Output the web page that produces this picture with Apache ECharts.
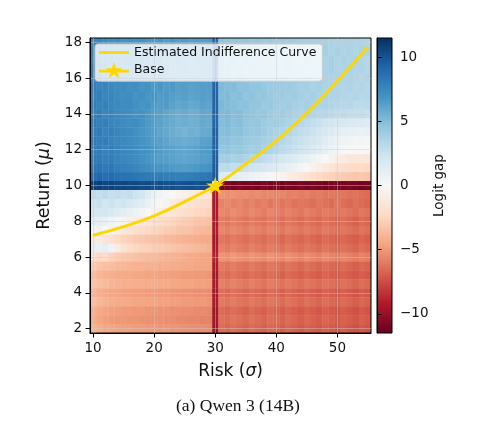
<!DOCTYPE html>
<html lang="en">
<head>
<meta charset="UTF-8">
<title>Logit gap heatmap</title>
<script src="https://cdn.jsdelivr.net/npm/echarts@6/dist/echarts.min.js"></script>
<style>
    html, body { margin: 0; padding: 0; background: #fff; }
    #main { width: 499px; height: 434px; }
</style>
</head>
<body>
<div id="main"></div>
<script>
// columns: risk levels, rows: return levels (top row first)
var sigmaValues = [10, 11, 12, 13, 14, 15, 16, 17, 18, 19, 20, 21, 22, 23, 24, 25, 26, 27, 28, 29,
    30, 31, 32, 33, 34, 35, 36, 37, 38, 39, 40, 41, 42, 43, 44, 45, 46, 47, 48, 49, 50, 51, 52, 53, 54, 55];
var muValues = [18, 17.5, 17, 16.5, 16, 15.5, 15, 14.5, 14, 13.5, 13, 12.5, 12, 11.5, 11, 10.5, 10,
    9.5, 9, 8.5, 8, 7.5, 7, 6.5, 6, 5.5, 5, 4.5, 4, 3.5, 3, 2.5, 2];

// logit gap, one row per return level
var logitGap = [
    [7.4, 7.6, 7.3, 7.1, 7.2, 6.9, 7.0, 6.8, 7.0, 6.7, 6.6, 6.8, 6.5, 6.7, 6.4, 6.6, 6.3, 6.5, 6.4, 6.5, 9.0, 4.7, 4.5, 4.6, 4.4, 4.5, 4.3, 4.4, 4.2, 4.3, 4.1, 4.2, 4.1, 4.0, 4.0, 3.9, 3.9, 3.8, 3.8, 3.7, 3.7, 3.6, 3.6, 3.5, 3.5, 3.4],
    [7.7, 7.4, 7.5, 7.2, 7.0, 7.1, 6.9, 7.0, 6.7, 6.8, 6.9, 6.6, 6.7, 6.5, 6.6, 6.4, 6.5, 6.3, 6.6, 6.5, 9.1, 4.8, 4.6, 4.4, 4.6, 4.4, 4.5, 4.2, 4.3, 4.1, 4.3, 4.0, 4.1, 3.9, 4.1, 3.8, 4.0, 3.7, 3.9, 3.6, 3.8, 3.5, 3.7, 3.4, 3.6, 3.5],
    [7.5, 7.7, 7.2, 7.4, 7.1, 6.9, 7.2, 6.8, 6.9, 7.0, 6.7, 6.8, 6.6, 6.4, 6.7, 6.5, 6.2, 6.4, 6.5, 6.4, 9.2, 4.9, 4.7, 4.8, 4.5, 4.6, 4.4, 4.5, 4.3, 4.4, 4.2, 4.1, 4.2, 4.0, 3.9, 4.0, 3.8, 3.9, 3.7, 3.8, 3.6, 3.7, 3.5, 3.6, 3.4, 3.3],
    [7.8, 7.5, 7.6, 7.3, 7.4, 7.1, 7.0, 7.1, 6.8, 6.9, 6.6, 6.7, 6.8, 6.5, 6.4, 6.6, 6.4, 6.2, 6.4, 6.5, 9.1, 5.0, 4.8, 4.6, 4.7, 4.5, 4.6, 4.3, 4.4, 4.2, 4.3, 4.1, 4.2, 4.0, 4.1, 3.9, 3.8, 3.9, 3.7, 3.8, 3.6, 3.5, 3.6, 3.4, 3.5, 3.3],
    [7.6, 7.8, 7.4, 7.2, 7.5, 7.0, 7.2, 6.9, 7.0, 6.7, 6.8, 6.9, 6.6, 6.7, 6.5, 6.3, 6.5, 6.3, 6.5, 6.4, 9.3, 4.9, 5.0, 4.7, 4.8, 4.6, 4.4, 4.5, 4.3, 4.4, 4.2, 4.3, 4.0, 4.1, 3.9, 4.0, 3.8, 3.9, 3.7, 3.6, 3.7, 3.5, 3.6, 3.4, 3.3, 3.4],
    [7.9, 7.6, 7.7, 7.4, 7.2, 7.3, 7.0, 7.1, 6.8, 6.9, 6.6, 6.7, 6.5, 6.6, 6.3, 6.4, 6.2, 6.3, 6.4, 6.4, 9.2, 5.1, 4.9, 5.0, 4.7, 4.8, 4.5, 4.6, 4.4, 4.2, 4.3, 4.1, 4.2, 4.0, 3.8, 3.9, 3.7, 3.8, 3.6, 3.7, 3.5, 3.4, 3.5, 3.3, 3.4, 3.2],
    [7.7, 7.9, 7.5, 7.6, 7.3, 7.1, 7.2, 6.9, 7.0, 6.7, 6.8, 6.5, 6.6, 6.4, 6.2, 6.3, 6.1, 6.2, 6.4, 6.3, 9.3, 5.0, 5.1, 4.8, 4.9, 4.6, 4.7, 4.4, 4.5, 4.3, 4.1, 4.2, 4.0, 4.1, 3.9, 3.7, 3.8, 3.6, 3.7, 3.5, 3.6, 3.4, 3.3, 3.4, 3.2, 3.3],
    [8.0, 7.7, 7.8, 7.5, 7.4, 7.2, 7.3, 7.0, 6.8, 6.9, 6.6, 6.4, 6.5, 6.2, 6.0, 6.1, 5.9, 6.0, 6.2, 6.1, 9.2, 5.2, 5.0, 4.9, 4.7, 4.8, 4.5, 4.6, 4.3, 4.4, 4.2, 4.0, 4.1, 3.9, 3.7, 3.8, 3.6, 3.5, 3.6, 3.4, 3.3, 3.2, 3.3, 3.1, 3.0, 3.1],
    [7.8, 8.0, 7.6, 7.7, 7.4, 7.3, 7.1, 6.9, 7.0, 6.7, 6.5, 6.3, 6.1, 5.9, 5.7, 5.8, 5.6, 5.7, 6.0, 5.9, 9.3, 5.1, 5.2, 4.9, 5.0, 4.7, 4.6, 4.4, 4.5, 4.2, 4.0, 4.1, 3.9, 3.7, 3.5, 3.6, 3.4, 3.2, 3.3, 3.1, 2.9, 3.0, 2.8, 2.7, 2.8, 2.6],
    [8.1, 7.8, 7.9, 7.6, 7.5, 7.3, 7.1, 7.2, 6.9, 6.6, 6.4, 6.2, 6.0, 5.8, 5.6, 5.7, 5.5, 5.6, 5.9, 5.8, 9.2, 5.0, 5.1, 4.8, 4.9, 4.6, 4.4, 4.5, 4.2, 4.0, 4.1, 3.8, 3.6, 3.4, 3.2, 3.0, 2.8, 2.6, 2.4, 2.2, 2.0, 1.9, 1.8, 1.7, 1.6, 1.5],
    [7.9, 8.1, 7.7, 7.8, 7.6, 7.4, 7.2, 7.0, 6.8, 6.6, 6.4, 6.1, 5.9, 5.7, 5.5, 5.4, 5.6, 5.5, 5.8, 5.9, 9.4, 4.9, 5.0, 4.7, 4.8, 4.5, 4.3, 4.4, 4.1, 3.9, 3.7, 3.5, 3.3, 3.1, 2.9, 2.7, 2.5, 2.2, 1.9, 1.6, 1.3, 1.1, 1.0, 0.9, 0.8, 0.9],
    [8.2, 7.9, 8.0, 7.7, 7.6, 7.4, 7.3, 7.1, 6.9, 6.7, 6.5, 6.3, 6.1, 5.9, 5.8, 5.7, 5.8, 5.9, 6.2, 6.3, 9.3, 4.7, 4.8, 4.5, 4.6, 4.3, 4.1, 4.2, 3.9, 3.7, 3.5, 3.3, 3.1, 2.8, 2.6, 2.4, 2.1, 1.8, 1.4, 1.0, 0.7, 0.5, 0.4, 0.3, 0.4, 0.2],
    [8.0, 8.2, 7.8, 7.9, 7.7, 7.5, 7.4, 7.2, 7.0, 6.9, 6.7, 6.5, 6.3, 6.2, 6.1, 6.0, 6.1, 6.2, 6.5, 6.6, 9.4, 4.5, 4.6, 4.3, 4.4, 4.1, 3.9, 4.0, 3.7, 3.5, 3.3, 3.0, 2.8, 2.5, 2.3, 2.0, 1.7, 1.4, 1.0, 0.6, 0.3, 0.1, 0.0, -0.1, 0.0, -0.2],
    [8.1, 8.2, 7.9, 8.0, 7.7, 7.5, 7.4, 7.2, 7.0, 6.8, 6.6, 6.4, 6.3, 6.2, 6.1, 6.0, 6.1, 6.2, 6.4, 6.5, 9.5, 3.9, 4.0, 3.7, 3.8, 3.5, 3.3, 3.1, 2.9, 2.7, 2.4, 2.1, 1.8, 1.5, 1.2, 0.9, 0.6, 0.3, 0.0, -0.4, -0.8, -1.1, -1.3, -1.4, -1.3, -1.5],
    [8.4, 8.5, 8.2, 8.3, 8.0, 7.8, 7.7, 7.5, 7.3, 7.1, 7.0, 6.8, 6.7, 6.6, 6.5, 6.4, 6.5, 6.6, 6.8, 6.9, 9.6, 3.0, 3.1, 2.8, 2.9, 2.6, 2.4, 2.2, 2.0, 1.8, 1.5, 1.2, 0.9, 0.6, 0.3, 0.0, -0.4, -0.8, -1.2, -1.6, -1.9, -2.1, -2.2, -2.3, -2.2, -2.4],
    [9.0, 9.1, 8.8, 8.9, 8.7, 8.6, 8.5, 8.4, 8.3, 8.2, 8.2, 8.1, 8.0, 8.0, 7.9, 7.9, 8.0, 8.1, 8.3, 8.4, 9.8, 1.6, 1.4, 1.2, 1.1, 0.9, 0.7, 0.5, 0.3, 0.1, -0.2, -0.5, -0.8, -1.1, -1.4, -1.7, -2.0, -2.3, -2.5, -2.7, -2.9, -3.0, -3.1, -3.2, -3.1, -3.3],
    [10.8, 10.9, 10.6, 10.7, 10.5, 10.6, 10.4, 10.5, 10.3, 10.4, 10.2, 10.3, 10.1, 10.2, 10.0, 10.1, 10.2, 10.0, 10.3, 10.4, 0, -11.0, -10.9, -11.1, -10.8, -11.0, -10.9, -11.1, -10.8, -11.0, -10.9, -11.2, -10.9, -11.0, -10.8, -11.1, -10.9, -11.0, -11.2, -10.9, -11.0, -11.1, -10.9, -11.0, -11.2, -11.0],
    [3.0, 2.8, 3.1, 2.7, 2.9, 2.6, 2.8, 2.4, 2.2, 1.4, 0.8, 0.5, 0.2, 0.0, -0.3, -0.6, -0.8, -1.0, -1.3, -1.5, -9.2, -5.1, -5.3, -5.2, -5.4, -5.3, -5.5, -5.4, -5.6, -5.5, -5.7, -5.6, -5.8, -5.7, -5.9, -5.8, -6.0, -5.9, -6.1, -6.0, -6.2, -6.1, -6.3, -6.2, -6.4, -6.5],
    [2.4, 2.6, 2.2, 2.5, 2.1, 2.3, 1.9, 1.6, 1.4, 0.8, 0.3, -0.1, -0.5, -0.9, -1.2, -1.4, -1.7, -1.9, -2.1, -2.3, -9.4, -5.7, -5.5, -5.8, -5.6, -5.9, -5.7, -6.0, -5.8, -6.1, -5.9, -6.2, -6.0, -6.3, -6.1, -6.2, -6.4, -6.1, -6.3, -6.5, -6.2, -6.4, -6.6, -6.3, -6.5, -6.7],
    [2.2, 2.0, 2.1, 1.8, 1.5, 1.2, 0.9, 0.6, 0.3, 0.0, -0.4, -0.8, -1.2, -1.5, -1.8, -2.0, -2.2, -2.4, -2.5, -2.7, -9.2, -5.5, -5.7, -5.4, -5.6, -5.8, -5.5, -5.7, -5.9, -5.6, -5.8, -6.0, -5.7, -5.9, -6.1, -5.8, -6.0, -6.2, -5.9, -6.1, -6.3, -6.0, -6.2, -6.4, -6.1, -6.3],
    [1.3, 1.1, 0.9, 0.5, 0.1, -0.3, -0.6, -0.9, -1.2, -1.5, -1.8, -2.1, -2.3, -2.5, -2.7, -2.9, -3.0, -3.2, -3.3, -3.4, -9.3, -5.9, -6.1, -5.8, -6.0, -6.2, -5.9, -6.1, -6.3, -6.0, -6.2, -6.4, -6.1, -6.3, -6.5, -6.2, -6.4, -6.6, -6.3, -6.5, -6.7, -6.4, -6.6, -6.8, -6.5, -6.7],
    [0.4, 0.6, 0.1, -0.4, -0.9, -1.3, -1.6, -1.9, -2.1, -2.3, -2.5, -2.7, -2.9, -3.0, -3.2, -3.3, -3.4, -3.6, -3.7, -3.8, -9.1, -5.6, -5.8, -5.5, -5.7, -5.9, -5.6, -5.8, -6.0, -5.7, -5.9, -6.1, -5.8, -6.0, -6.2, -5.9, -6.1, -6.3, -6.0, -6.2, -6.4, -6.1, -6.3, -6.5, -6.2, -6.4],
    [-1.2, -1.0, -1.5, -1.9, -2.3, -2.6, -2.8, -3.0, -3.1, -3.3, -3.4, -3.5, -3.7, -3.8, -3.9, -4.0, -4.1, -4.2, -4.3, -4.4, -9.4, -6.1, -6.3, -6.0, -6.2, -6.4, -6.1, -6.3, -6.5, -6.2, -6.4, -6.6, -6.3, -6.5, -6.7, -6.4, -6.6, -6.8, -6.5, -6.7, -6.9, -6.6, -6.8, -7.0, -6.7, -6.9],
    [1.0, 0.8, 1.1, 0.5, -1.0, -1.7, -2.1, -2.4, -2.6, -2.7, -2.9, -3.0, -3.1, -3.3, -3.4, -3.5, -3.6, -3.7, -3.8, -4.0, -9.2, -5.8, -6.0, -5.7, -5.9, -6.1, -5.8, -6.0, -6.2, -5.9, -6.1, -6.3, -6.0, -6.2, -6.4, -6.1, -6.3, -6.5, -6.2, -6.4, -6.6, -6.3, -6.5, -6.7, -6.4, -6.6],
    [-2.0, -2.4, -2.2, -2.6, -2.9, -3.1, -3.2, -3.4, -3.5, -3.6, -3.7, -3.8, -3.9, -4.0, -4.1, -4.2, -4.3, -4.4, -4.5, -4.6, -9.0, -5.1, -5.3, -5.0, -5.2, -5.4, -5.1, -5.3, -5.5, -5.2, -5.4, -5.6, -5.3, -5.5, -5.7, -5.4, -5.6, -5.8, -5.5, -5.7, -5.9, -5.6, -5.8, -6.0, -5.7, -5.9],
    [-3.0, -3.3, -3.5, -3.6, -3.7, -3.8, -3.9, -4.0, -4.0, -4.1, -4.1, -4.2, -4.2, -4.3, -4.3, -4.4, -4.4, -4.5, -4.5, -4.6, -9.3, -6.0, -6.2, -5.9, -6.1, -6.3, -6.0, -6.2, -6.4, -6.1, -6.3, -6.5, -6.2, -6.4, -6.6, -6.3, -6.5, -6.7, -6.4, -6.6, -6.8, -6.5, -6.7, -6.9, -6.6, -6.8],
    [-3.6, -3.9, -4.1, -4.2, -4.3, -4.4, -4.4, -4.5, -4.5, -4.6, -4.6, -4.7, -4.7, -4.8, -4.8, -4.9, -4.9, -5.0, -5.0, -5.1, -9.5, -6.3, -6.5, -6.2, -6.4, -6.6, -6.3, -6.5, -6.7, -6.4, -6.6, -6.8, -6.5, -6.7, -6.9, -6.6, -6.8, -7.0, -6.7, -6.9, -7.1, -6.8, -7.0, -7.2, -6.9, -7.1],
    [-3.2, -3.5, -3.7, -3.9, -4.0, -4.1, -4.1, -4.2, -4.2, -4.3, -4.3, -4.4, -4.4, -4.5, -4.5, -4.6, -4.6, -4.7, -4.7, -4.8, -9.2, -5.8, -6.0, -5.7, -5.9, -6.1, -5.8, -6.0, -6.2, -5.9, -6.1, -6.3, -6.0, -6.2, -6.4, -6.1, -6.3, -6.5, -6.2, -6.4, -6.6, -6.3, -6.5, -6.7, -6.4, -6.6],
    [-3.9, -4.2, -4.4, -4.5, -4.6, -4.7, -4.7, -4.8, -4.8, -4.9, -4.9, -5.0, -5.0, -5.1, -5.1, -5.2, -5.2, -5.3, -5.3, -5.4, -9.5, -6.4, -6.6, -6.3, -6.5, -6.7, -6.4, -6.6, -6.8, -6.5, -6.7, -6.9, -6.6, -6.8, -7.0, -6.7, -6.9, -7.1, -6.8, -7.0, -7.2, -6.9, -7.1, -7.3, -7.0, -7.2],
    [-3.5, -3.8, -4.0, -4.2, -4.3, -4.4, -4.4, -4.5, -4.5, -4.6, -4.6, -4.7, -4.7, -4.8, -4.8, -4.9, -4.9, -5.0, -5.0, -5.1, -9.3, -6.0, -6.2, -5.9, -6.1, -6.3, -6.0, -6.2, -6.4, -6.1, -6.3, -6.5, -6.2, -6.4, -6.6, -6.3, -6.5, -6.7, -6.4, -6.6, -6.8, -6.5, -6.7, -6.9, -6.6, -6.8],
    [-4.1, -4.4, -4.6, -4.7, -4.8, -4.9, -4.9, -5.0, -5.0, -5.1, -5.1, -5.2, -5.2, -5.3, -5.3, -5.4, -5.4, -5.5, -5.5, -5.6, -9.6, -6.5, -6.7, -6.4, -6.6, -6.8, -6.5, -6.7, -6.9, -6.6, -6.8, -7.0, -6.7, -6.9, -7.1, -6.8, -7.0, -7.2, -6.9, -7.1, -7.3, -7.0, -7.2, -7.4, -7.1, -7.3],
    [-4.3, -4.6, -4.8, -4.9, -5.0, -5.0, -5.1, -5.1, -5.2, -5.2, -5.3, -5.3, -5.4, -5.4, -5.5, -5.5, -5.6, -5.6, -5.7, -5.7, -9.5, -6.3, -6.5, -6.2, -6.4, -6.6, -6.3, -6.5, -6.7, -6.4, -6.6, -6.8, -6.5, -6.7, -6.9, -6.6, -6.8, -7.0, -6.7, -6.9, -7.1, -6.8, -7.0, -7.2, -6.9, -7.1],
    [-4.0, -4.3, -4.5, -4.6, -4.7, -4.8, -4.8, -4.9, -4.9, -5.0, -5.0, -5.1, -5.1, -5.2, -5.2, -5.3, -5.3, -5.4, -5.4, -5.5, -9.7, -6.5, -6.7, -6.4, -6.6, -6.8, -6.5, -6.7, -6.9, -6.6, -6.8, -7.0, -6.7, -6.9, -7.1, -6.8, -7.0, -7.2, -6.9, -7.1, -7.3, -7.0, -7.2, -7.4, -7.1, -7.3]
];

// estimated indifference curve, read at a few risk levels
var curveSigma = [10, 15, 20, 25, 30, 35, 40, 45, 50, 55];
var curveMu = [7.22, 7.7, 8.3, 9.1, 10.0, 11.2, 12.5, 14.05, 15.85, 17.75];
var basePoint = [30, 10];

// tick labels
var xTicks = [10, 20, 30, 40, 50];
var yTicks = [2, 4, 6, 8, 10, 12, 14, 16, 18];
var cbarTicks = [-10, -5, 0, 5, 10];
var cbarMin = -11.5, cbarMax = 11.5;

var rdbu = ['#67001f', '#b2182b', '#d6604d', '#f4a582', '#fddbc7', '#f7f7f7',
    '#d1e5f0', '#92c5de', '#4393c3', '#2166ac', '#053061'];
var starPath = 'path://M50,2 L61.8,36.2 L97.6,36.2 L68.6,57.4 L79.4,91.8 L50,70.6 L20.6,91.8 L31.4,57.4 L2.4,36.2 L38.2,36.2 Z';
// legend samples: a line, and a line with the star on it
var lineIcon = 'path://M0,8.1H30V10.9H0Z';
var baseIcon = 'path://M0,8.1H30V10.9H0Z M15,0.36L17.12,6.52L23.57,6.52L18.35,10.33L20.29,16.52L15,12.71L9.71,16.52L11.65,10.33L6.43,6.52L12.88,6.52Z';
var font = 'DejaVu Sans';

var cells = [];
logitGap.forEach(function (row, r) {
    row.forEach(function (v, c) {
        cells.push([sigmaValues[c], muValues[r], v]);
    });
});
var cellW = sigmaValues[1] - sigmaValues[0];
var cellH = muValues[0] - muValues[1];

var curve = curveSigma.map(function (s, i) { return [s, curveMu[i]]; });

function minus(v) {
    return v < 0 ? '\u2212' + Math.abs(v) : String(v);
}

var myChart = echarts.init(document.getElementById('main'), null, { renderer: 'canvas' });

var option = {
    animation: false,
    backgroundColor: '#fff',
    title: {
        text: '(a) Qwen 3 (14B)',
        left: 176,
        top: 397,
        padding: 0,
        textStyle: { fontFamily: 'Liberation Serif', fontWeight: 'normal', fontSize: 17.5, color: '#111' }
    },
    grid: [
        { left: 90, top: 38, width: 281, height: 295, show: true, z: 5,
          backgroundColor: 'transparent', borderColor: '#000', borderWidth: 1 },
        { left: 377, top: 38, width: 15, height: 295, show: true, z: 5,
          backgroundColor: 'transparent', borderColor: '#000', borderWidth: 1 }
    ],
    xAxis: [
        {
            type: 'value', gridIndex: 0, min: 9.5, max: 55.5, z: 6,
            name: 'Risk ({i|σ})', nameLocation: 'middle', nameGap: 30,
            nameTextStyle: { fontFamily: font, fontSize: 17, color: '#111',
                rich: { i: { fontFamily: font, fontStyle: 'italic', fontSize: 17, color: '#111' } } },
            axisLine: { show: true, lineStyle: { color: '#000', width: 1 } },
            axisTick: { show: true, length: 4.5, customValues: xTicks, lineStyle: { color: '#000', width: 1 } },
            axisLabel: { customValues: xTicks, margin: 8, fontFamily: font, fontSize: 13.5, color: '#111' },
            splitLine: { show: false }
        },
        { type: 'value', gridIndex: 1, min: 0, max: 1, show: false }
    ],
    yAxis: [
        {
            type: 'value', gridIndex: 0, min: 1.75, max: 18.25, z: 6,
            name: 'Return ({i|μ})', nameLocation: 'middle', nameGap: 27,
            nameTextStyle: { fontFamily: font, fontSize: 17.5, color: '#111',
                rich: { i: { fontFamily: font, fontStyle: 'italic', fontSize: 17.5, color: '#111' } } },
            axisLine: { show: true, lineStyle: { color: '#000', width: 1 } },
            axisTick: { show: true, length: 4.5, customValues: yTicks, lineStyle: { color: '#000', width: 1 } },
            axisLabel: { customValues: yTicks, margin: 8, fontFamily: font, fontSize: 13.5, color: '#111' },
            splitLine: { show: false }
        },
        {
            type: 'value', gridIndex: 1, min: cbarMin, max: cbarMax, position: 'right', z: 6,
            name: 'Logit gap', nameLocation: 'middle', nameGap: 40, nameRotate: 90,
            nameTextStyle: { fontFamily: font, fontSize: 13.5, color: '#111' },
            axisLine: { show: true, lineStyle: { color: '#000', width: 1 } },
            axisTick: { show: true, length: 4.5, customValues: cbarTicks, lineStyle: { color: '#000', width: 1 } },
            axisLabel: { customValues: cbarTicks, margin: 8, fontFamily: font, fontSize: 13.5, color: '#111',
                formatter: minus },
            splitLine: { show: false }
        }
    ],
    visualMap: {
        type: 'continuous', show: false, seriesIndex: 0, dimension: 2,
        min: cbarMin, max: cbarMax,
        inRange: { color: rdbu }
    },
    legend: {
        orient: 'vertical', left: 95, top: 44,
        itemWidth: 30, itemHeight: 17, itemGap: 3,
        padding: [2, 6, 3, 4],
        backgroundColor: 'rgba(255,255,255,0.8)',
        borderColor: '#cccccc', borderWidth: 1, borderRadius: 3,
        selectedMode: false,
        textStyle: { fontFamily: font, fontSize: 12.5, color: '#111' },
        data: [
            { name: 'Estimated Indifference Curve', icon: lineIcon },
            { name: 'Base', icon: baseIcon }
        ]
    },
    series: [
        {
            type: 'custom', name: 'gap', xAxisIndex: 0, yAxisIndex: 0, clip: true, z: 2,
            data: cells,
            encode: { x: 0, y: 1 },
            renderItem: function (params, api) {
                var x = api.value(0), y = api.value(1);
                var a = api.coord([x - cellW / 2, y + cellH / 2]);
                var b = api.coord([x + cellW / 2, y - cellH / 2]);
                return {
                    type: 'rect',
                    shape: { x: a[0], y: a[1], width: b[0] - a[0] + 0.4, height: b[1] - a[1] + 0.4 },
                    style: { fill: api.visual('color') }
                };
            }
        },
        {
            type: 'line', name: 'grid', xAxisIndex: 0, yAxisIndex: 0, data: [], z: 3, silent: true,
            markLine: {
                symbol: 'none', silent: true, label: { show: false },
                lineStyle: { color: 'rgba(205,205,205,0.55)', width: 0.8, type: 'solid' },
                data: xTicks.map(function (v) { return { xAxis: v }; })
                    .concat(yTicks.map(function (v) { return { yAxis: v }; }))
            }
        },
        {
            type: 'line', name: 'Estimated Indifference Curve', xAxisIndex: 0, yAxisIndex: 0,
            data: curve, smooth: true, symbol: 'none', symbolKeepAspect: true, z: 10,
            lineStyle: { color: '#ffd700', width: 3 },
            itemStyle: { color: '#ffd700' }
        },
        {
            type: 'line', name: 'Base', xAxisIndex: 0, yAxisIndex: 0,
            data: [basePoint], symbol: starPath, symbolSize: 18, symbolKeepAspect: true, showSymbol: true, z: 11,
            lineStyle: { color: '#ffd700', width: 3 },
            itemStyle: { color: '#ffd700' }
        },
        {
            type: 'custom', name: 'colorbar', xAxisIndex: 1, yAxisIndex: 1, z: 2,
            data: [[0.5, 0]],
            renderItem: function (params, api) {
                var top = api.coord([0, cbarMax]);
                var bottom = api.coord([0, cbarMin]);
                var stops = rdbu.slice().reverse().map(function (c, i) {
                    return { offset: i / (rdbu.length - 1), color: c };
                });
                return {
                    type: 'rect',
                    shape: { x: params.coordSys.x, y: top[1], width: params.coordSys.width, height: bottom[1] - top[1] },
                    style: { fill: new echarts.graphic.LinearGradient(0, 0, 0, 1, stops) }
                };
            }
        }
    ]
};

myChart.setOption(option);
</script>
</body>
</html>
